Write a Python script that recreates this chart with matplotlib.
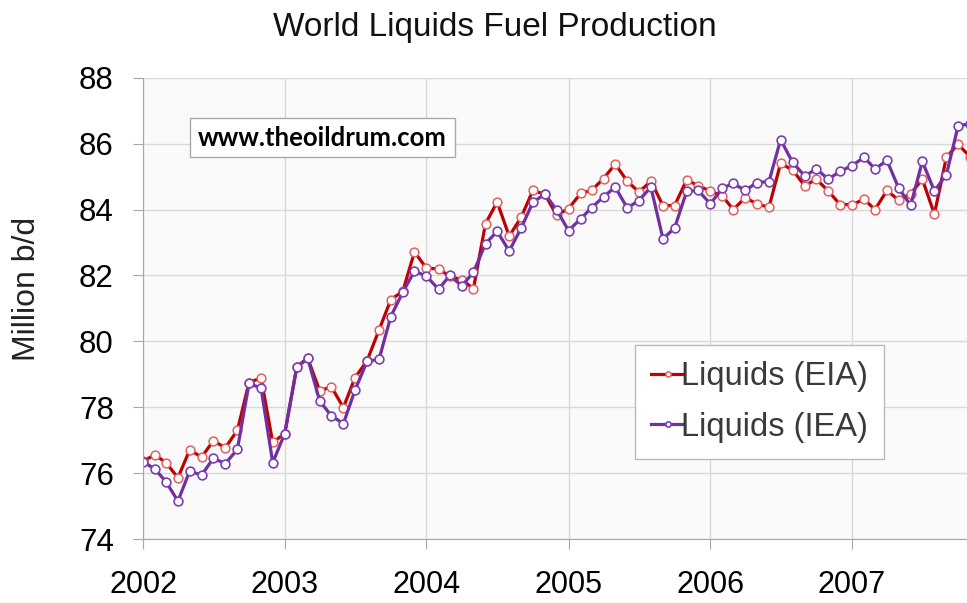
import matplotlib

matplotlib.use("Agg")
import matplotlib.pyplot as plt
import pandas as pd

plt.rcParams["font.family"] = ["Liberation Sans", "DejaVu Sans"]

# monthly world liquids production, million b/d, Jan 2002 onward
months = pd.date_range("2002-01-01", periods=71, freq="MS")

eia = [
    76.37, 76.55, 76.32, 75.86, 76.70, 76.49, 76.98, 76.77, 77.30, 78.75, 78.89, 76.93,
    77.20, 79.21, 79.49, 78.50, 78.62, 77.99, 78.90, 79.41, 80.35, 81.26, 81.52, 82.71,
    82.22, 82.20, 81.97, 81.87, 81.60, 83.57, 84.23, 83.19, 83.77, 84.58, 84.46, 83.83,
    84.03, 84.49, 84.58, 84.94, 85.38, 84.86, 84.53, 84.86, 84.12, 84.12, 84.90, 84.72,
    84.56, 84.41, 84.00, 84.36, 84.17, 84.07, 85.40, 85.20, 84.72, 84.92, 84.56, 84.15,
    84.15, 84.31, 84.00, 84.58, 84.28, 84.48, 84.92, 83.86, 85.59, 85.98, 85.60,
]
iea = [
    76.35, 76.12, 75.74, 75.15, 76.06, 75.94, 76.45, 76.29, 76.72, 78.72, 78.58, 76.32,
    77.20, 79.23, 79.49, 78.19, 77.74, 77.50, 78.52, 79.39, 79.46, 80.75, 81.49, 82.13,
    81.98, 81.58, 82.00, 81.68, 82.10, 82.96, 83.34, 82.74, 83.44, 84.22, 84.47, 83.99,
    83.36, 83.72, 84.05, 84.39, 84.68, 84.05, 84.27, 84.68, 83.11, 83.44, 84.55, 84.58,
    84.17, 84.65, 84.79, 84.58, 84.82, 84.85, 86.12, 85.43, 85.02, 85.23, 84.92, 85.16,
    85.33, 85.59, 85.23, 85.49, 84.65, 84.13, 85.46, 84.56, 85.06, 86.53, 86.61,
]
year_ticks = pd.date_range("2002-01-01", "2007-01-01", freq="YS")
year_labels = [str(d.year) for d in year_ticks]

fig = plt.figure(figsize=(9.67, 6.03), dpi=100)
ax = fig.add_axes([0.1479, 0.1061, 0.8521, 0.765])
ax.set_facecolor("#fafafa")

ax.plot(months, eia, color="#c00000", lw=2.3, marker="o", ms=6.3,
        mfc="white", mec="#e06060", mew=1.1, label="Liquids (EIA)")
ax.plot(months, iea, color="#7030a0", lw=2.3, marker="o", ms=6.3,
        mfc="white", mec="#7a3fb0", mew=1.2, label="Liquids (IEA)")

ax.set_ylim(74, 88)
ax.set_yticks(range(74, 89, 2))
ax.set_xlim(months[0], pd.Timestamp("2007-10-24"))
ax.set_xticks(year_ticks)
ax.set_xticklabels(year_labels)

ax.grid(True, color="#d9d9d9", lw=1.0)
ax.set_axisbelow(True)
ax.spines[["top", "right"]].set_visible(False)
ax.spines[["left", "bottom"]].set_color("#a6a6a6")
ax.tick_params(axis="y", length=7, color="#a6a6a6", pad=14, labelsize=22.5)
ax.tick_params(axis="x", length=7, color="#a6a6a6", pad=15, labelsize=22)

fig.text(0.028, 0.521, "Million b/d", rotation=90, ha="center", va="center",
         fontsize=23, color="#222222")

fig.text(0.5115, 0.955, "World Liquids Fuel Production", ha="center", va="center",
         fontsize=24, color="#111111")

fig.text(0.3335, 0.7715, "www.theoildrum.com", ha="center", va="center",
         fontsize=18.5, fontweight="bold", family=["Lato", "DejaVu Sans"],
         bbox=dict(boxstyle="square,pad=0.3", fc="white", ec="#aaaaaa", lw=1.0))

leg = ax.legend(loc="upper left", bbox_to_anchor=(0.6567, 0.4279),
                bbox_transform=fig.transFigure, borderaxespad=0,
                fontsize=23.5, handlelength=1.0, handletextpad=-0.1,
                markerscale=0.6, fancybox=False, framealpha=1,
                edgecolor="#bbbbbb", labelspacing=0.6, borderpad=0.5)
for t in leg.get_texts():
    t.set_color("#3a3a3a")

fig.savefig("out.png", dpi=100)
